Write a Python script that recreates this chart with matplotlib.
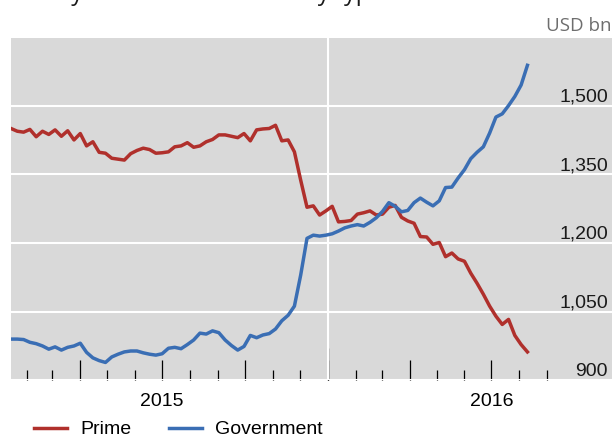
import matplotlib
matplotlib.use("Agg")
import matplotlib.pyplot as plt
import matplotlib.dates as mdates
import matplotlib.ticker as mticker
import pandas as pd

# weekly observations, USD bn
weeks = pd.date_range("2015-01-14", periods=83, freq="7D")

prime = [1450, 1444, 1442, 1448, 1432, 1444, 1437, 1447, 1433, 1445,
         1425, 1439, 1412, 1421, 1398, 1396, 1385, 1383, 1381, 1395,
         1402, 1407, 1404, 1396, 1397, 1399, 1410, 1412, 1419, 1409,
         1412, 1421, 1426, 1436, 1436, 1433, 1430, 1439, 1423, 1447,
         1449, 1450, 1457, 1423, 1425, 1399, 1337, 1278, 1281, 1261,
         1270, 1280, 1246, 1247, 1249, 1263, 1266, 1270, 1261, 1263,
         1278, 1282, 1256, 1248, 1243, 1214, 1213, 1197, 1201, 1170,
         1178, 1165, 1160, 1134, 1112, 1088, 1062, 1040, 1022, 1033,
         998, 978, 962]

government = [990, 990, 989, 983, 980, 975, 968, 973, 966, 972,
              975, 981, 961, 949, 943, 939, 951, 957, 962, 964,
              964, 960, 957, 955, 958, 970, 972, 969, 978, 988,
              1003, 1001, 1008, 1004, 988, 976, 966, 974, 998, 993,
              999, 1002, 1012, 1030, 1042, 1062, 1130, 1210, 1217, 1215,
              1217, 1220, 1226, 1233, 1237, 1240, 1237, 1245, 1255, 1269,
              1288, 1280, 1268, 1271, 1288, 1298, 1289, 1281, 1292, 1321,
              1322, 1342, 1360, 1384, 1398, 1410, 1440, 1475, 1482, 1500,
              1520, 1545, 1588]

y_ticks = [900, 1050, 1200, 1350, 1500]
year_starts = [pd.Timestamp("2015-01-01"), pd.Timestamp("2016-01-01")]
# month ticks only run to September 2016
month_ticks = pd.date_range("2015-02-01", "2016-09-01", freq="MS")
quarter_ticks = [d for d in month_ticks if d.month in (1, 4, 7, 10)]

RED = "#b0302c"
BLUE = "#3a6eb4"
GREY_BG = "#d9d9d9"

plt.rcParams["font.family"] = ["Liberation Sans", "DejaVu Sans"]

W, H = 613, 438
fig = plt.figure(figsize=(W / 100, H / 100), dpi=100)
ax = fig.add_axes([11 / W, 1 - 380.3 / H, (612 - 11) / W, (380.3 - 38.3) / H])
ax.set_facecolor(GREY_BG)
for s in ax.spines.values():
    s.set_visible(False)

l1, = ax.plot(weeks, prime, color=RED, lw=2.5, label="Prime", zorder=3)
l2, = ax.plot(weeks, government, color=BLUE, lw=2.5, label="Government", zorder=3)

ax.set_ylim(900, 1647)
ax.set_xlim(weeks[0], year_starts[1] + pd.Timedelta(days=316))

# horizontal grid + year separator
ax.set_axisbelow(True)
ax.yaxis.grid(True, color="white", lw=1.5)
ax.axvline(year_starts[1], color="white", lw=1.5, zorder=1)

# y labels inside, on the right, sitting on the gridlines
ax.yaxis.tick_right()
ax.set_yticks(y_ticks)
ax.set_yticklabels([f"{v:,}" for v in y_ticks])
ax.tick_params(axis="y", length=0, pad=-3, labelsize=14, labelcolor="#1a1a1a")
for lbl in ax.get_yticklabels():
    lbl.set_ha("right")
    lbl.set_va("bottom")

# monthly / quarterly ticks pointing up, year label under July
ax.xaxis.set_major_locator(mticker.FixedLocator(mdates.date2num(quarter_ticks)))
ax.xaxis.set_minor_locator(mticker.FixedLocator(mdates.date2num(month_ticks)))
ax.xaxis.set_major_formatter(mticker.FuncFormatter(
    lambda v, p: str(mdates.num2date(v).year) if mdates.num2date(v).month == 7 else ""))
ax.tick_params(axis="x", which="major", direction="in", length=14.1, width=0.9,
               color="black", pad=9.1, labelsize=14)
ax.tick_params(axis="x", which="minor", direction="in", length=7.4, width=0.9,
               color="black")

# taller tick at the start of each year
sec = ax.secondary_xaxis("bottom")
sec.set_xticks(year_starts)
sec.tick_params(direction="in", length=23, width=0.9, color="black", labelbottom=False)
for s in sec.spines.values():
    s.set_visible(False)

fig.text(611.7 / W, 1 - 30.7 / H, "USD bn", ha="right", va="baseline",
         fontfamily="Open Sans", fontsize=13.5, color="#6e6e6e")
# title sits above the visible area in the source; only its descenders show
fig.text(9 / W, 1.0, "Money market fund assets by type", ha="left", va="baseline",
         fontfamily="Open Sans", fontsize=16.8, color="#1a1a1a")

fig.legend(handles=[l1, l2], loc="center left", bbox_to_anchor=(34.4 / W, 1 - 429.5 / H),
           ncol=2, frameon=False, fontsize=14, handlelength=1.7, handletextpad=0.65,
           columnspacing=1.96, borderpad=0, borderaxespad=0)

fig.savefig("out.png", dpi=100)
